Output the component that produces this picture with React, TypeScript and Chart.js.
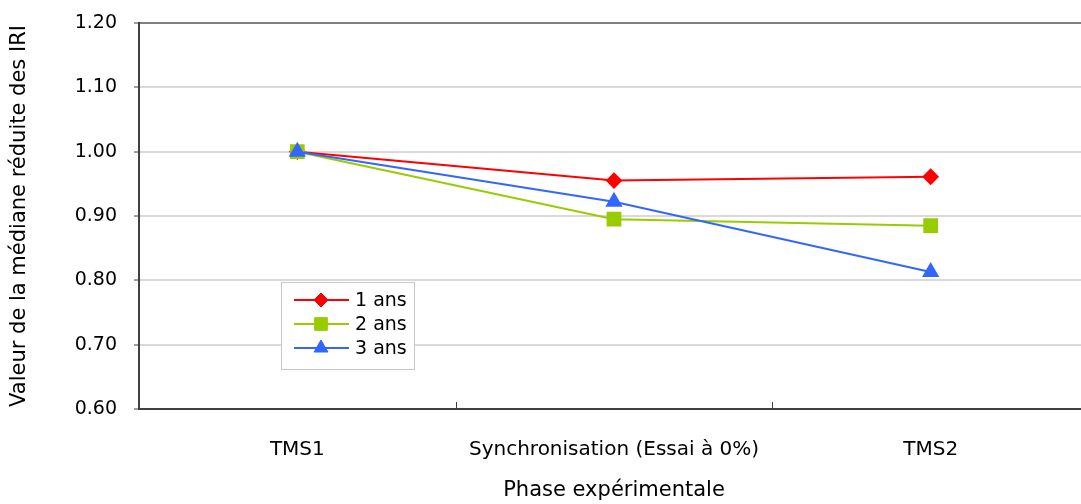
import React, { useEffect, useRef } from "react";
import { Chart, registerables } from "chart.js";
import { drawPoint } from "chart.js/helpers";

Chart.register(...registerables);

const categories = ["TMS1", "Synchronisation (Essai à 0%)", "TMS2"];
const seriesNames = ["1 ans", "2 ans", "3 ans"];
const values1 = [1.0, 0.955, 0.961];
const values2 = [1.0, 0.895, 0.885];
const values3 = [1.0, 0.922, 0.813];
const yTicks = [0.6, 0.7, 0.8, 0.9, 1.0, 1.1, 1.2];
const xTitle = "Phase expérimentale";
const yTitle = "Valeur de la médiane réduite des IRI";

const FONT = "'DejaVu Sans', sans-serif";

const legendPlugin = {
  id: "insideLegend",
  afterDraw(chart: any) {
    const { ctx, chartArea } = chart;
    const x0 = chartArea.left + 142;
    const y0 = chartArea.top + 259;
    const w = 133;
    const h = 87;
    ctx.save();
    ctx.fillStyle = "#ffffff";
    ctx.fillRect(x0, y0, w, h);
    ctx.strokeStyle = "#c8c8c8";
    ctx.lineWidth = 1;
    ctx.strokeRect(x0 + 0.5, y0 + 0.5, w, h);
    chart.data.datasets.forEach((ds: any, i: number) => {
      const cy = y0 + 18 + i * 24;
      ctx.strokeStyle = ds.borderColor;
      ctx.lineWidth = 2;
      ctx.beginPath();
      ctx.moveTo(x0 + 13, cy);
      ctx.lineTo(x0 + 68, cy);
      ctx.stroke();
      ctx.fillStyle = ds.pointBackgroundColor;
      ctx.strokeStyle = ds.pointBorderColor;
      ctx.lineWidth = 1;
      drawPoint(ctx, { pointStyle: ds.pointStyle, radius: ds.pointRadius, borderWidth: 1, rotation: 0 }, x0 + 40, cy);
      ctx.fillStyle = "#000000";
      ctx.font = "19px " + FONT;
      ctx.textBaseline = "middle";
      ctx.textAlign = "left";
      ctx.fillText(ds.label, x0 + 74, cy + 1);
    });
    ctx.restore();
  },
};

const xTickPlugin = {
  id: "xInnerTicks",
  afterDatasetsDraw(chart: any) {
    const { ctx, chartArea, scales } = chart;
    const xs = scales.x;
    ctx.save();
    ctx.strokeStyle = "#404040";
    ctx.lineWidth = 1;
    for (let i = 0; i < categories.length; i++) {
      const a = xs.getPixelForValue(i);
      const b = i + 1 < categories.length ? xs.getPixelForValue(i + 1) : a + (a - xs.getPixelForValue(i - 1));
      const px = Math.round((a + b) / 2) + 0.5;
      ctx.beginPath();
      ctx.moveTo(px, chartArea.bottom);
      ctx.lineTo(px, chartArea.bottom - 7);
      ctx.stroke();
    }
    ctx.restore();
  },
};

export default function App() {
  const ref = useRef<HTMLCanvasElement>(null);
  useEffect(() => {
    if (!ref.current) return;
    const chart = new Chart(ref.current, {
      type: "line",
      data: {
        labels: categories,
        datasets: [
          {
            label: seriesNames[0],
            data: values1,
            borderColor: "#ff0000",
            backgroundColor: "#ff0000",
            pointBackgroundColor: "#ff0000",
            pointBorderColor: "#ff0000",
            pointStyle: "rectRot",
            pointRadius: 7,
            borderWidth: 2,
            tension: 0,
            order: 3,
          },
          {
            label: seriesNames[1],
            data: values2,
            borderColor: "#99cc00",
            backgroundColor: "#99cc00",
            pointBackgroundColor: "#99cc00",
            pointBorderColor: "#99cc00",
            pointStyle: "rect",
            pointRadius: 9,
            borderWidth: 2,
            tension: 0,
            order: 2,
          },
          {
            label: seriesNames[2],
            data: values3,
            borderColor: "#3366ff",
            backgroundColor: "#3366ff",
            pointBackgroundColor: "#3366ff",
            pointBorderColor: "#3366ff",
            pointStyle: "triangle",
            pointRadius: 8,
            borderWidth: 2,
            tension: 0,
            order: 1,
          },
        ],
      },
      options: {
        responsive: false,
        animation: false,
        layout: { padding: { left: 0, right: 10, top: 23, bottom: 0 } },
        plugins: {
          legend: { display: false },
          tooltip: { enabled: false },
        },
        scales: {
          x: {
            type: "category",
            offset: true,
            grid: { display: false, drawTicks: false, offset: true },
            border: { display: true, color: "#404040", width: 2 },
            ticks: { color: "#000000", font: { family: FONT, size: 20 }, padding: 29, maxRotation: 0 },
            title: {
              display: true,
              text: xTitle,
              color: "#000000",
              font: { family: FONT, size: 21 },
              padding: { top: 0, bottom: 1 },
            },
            afterFit: (s: any) => {
              s.height = 95;
              s.paddingLeft = 0;
              s.paddingRight = 0;
            },
          },
          y: {
            min: 0.6,
            max: 1.2,
            afterBuildTicks: (s: any) => {
              s.ticks = yTicks.map((v) => ({ value: v }));
            },
            grid: {
              color: (c: any) => (c.tick && Math.abs(c.tick.value - 1.2) < 1e-6 ? "#808080" : "#d9d9d9"),
              lineWidth: 2,
              tickColor: "#404040",
              tickLength: 5,
              tickWidth: 1,
            },
            border: { display: true, color: "#404040", width: 2 },
            ticks: {
              color: "#000000",
              font: { family: FONT, size: 19 },
              padding: 17,
              callback: (v: any) => Number(v).toFixed(2),
            },
            title: {
              display: true,
              text: yTitle,
              color: "#000000",
              font: { family: FONT, size: 21 },
              padding: { top: 7, bottom: 0 },
            },
            afterFit: (s: any) => {
              s.width = 139;
              s.paddingTop = 0;
              s.paddingBottom = 0;
            },
          },
        },
      },
      plugins: [xTickPlugin, legendPlugin],
    });
    return () => chart.destroy();
  }, []);
  return (
    <div style={{ position: "fixed", left: 0, top: 0, width: 1081, height: 504, overflow: "hidden", background: "#fff" }}>
      <canvas ref={ref} width={1100} height={504} style={{ display: "block" }} />
    </div>
  );
}
